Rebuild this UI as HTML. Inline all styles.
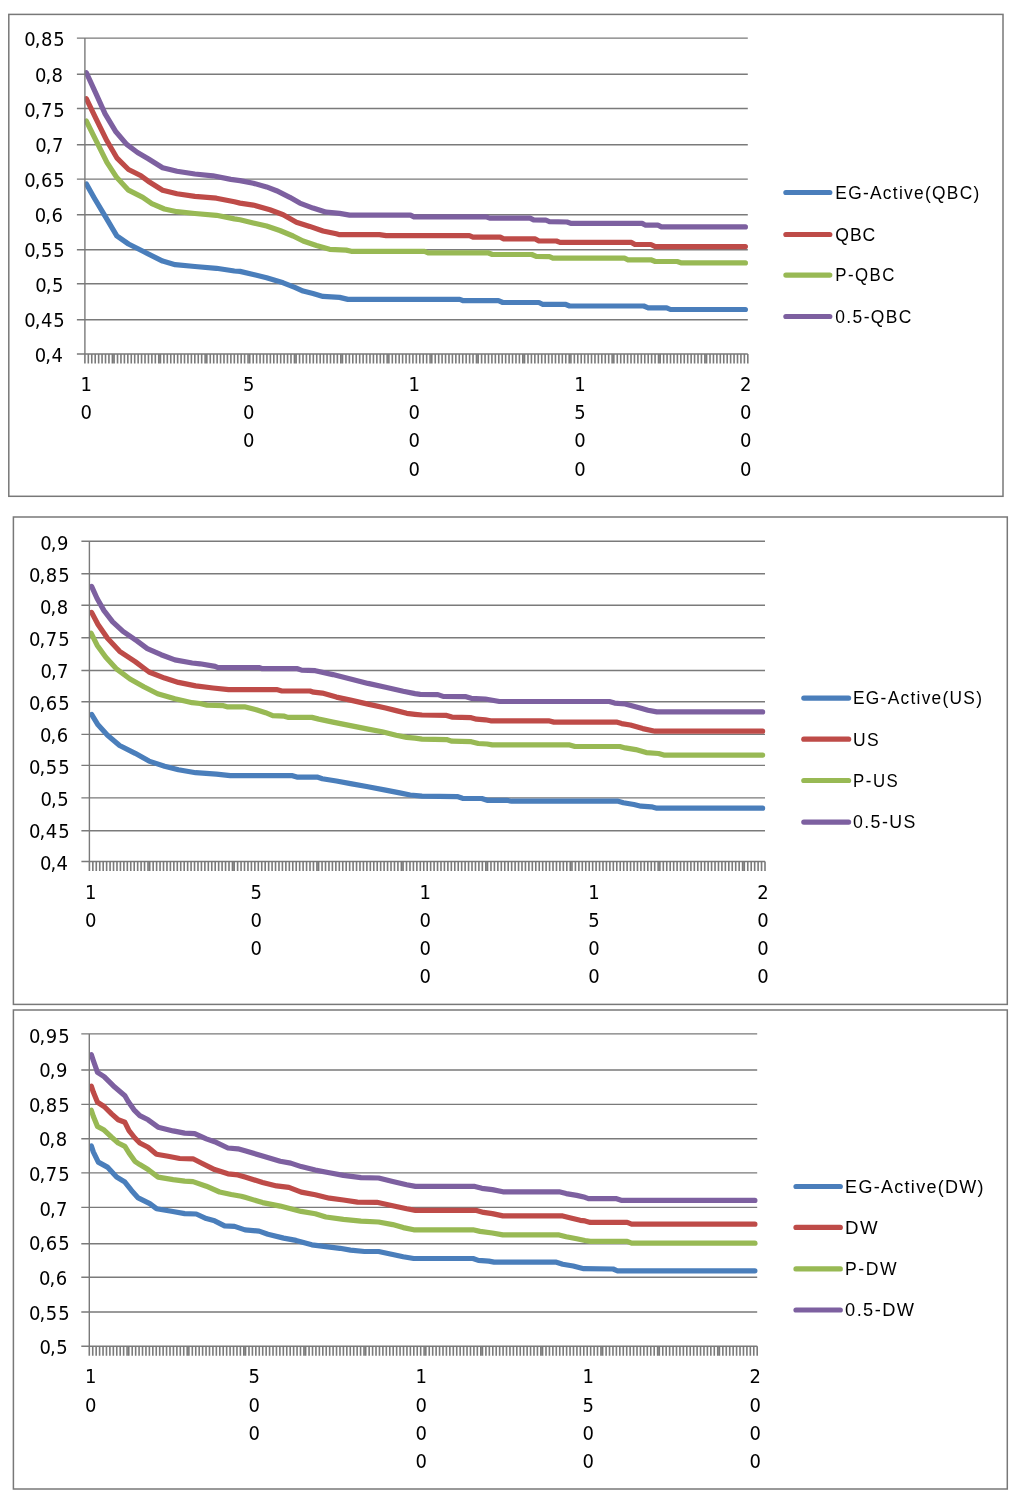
<!DOCTYPE html>
<html lang="en"><head><meta charset="utf-8"><title>Charts</title>
<style>
html,body{margin:0;padding:0;background:#fff;}
body{width:1024px;height:1504px;overflow:hidden;}
svg{display:block;}
.ax,.lg{filter:blur(0.35px);}
.ax{font-family:"DejaVu Sans","Liberation Sans",sans-serif;font-size:18.0px;fill:#000;}
.lg{font-family:"Liberation Sans","DejaVu Sans",sans-serif;font-size:19.0px;fill:#000;}
.g{stroke:#7a7a7a;stroke-width:1.4;fill:none;}
.s{fill:none;stroke-width:5.2;stroke-linejoin:round;stroke-linecap:round;}
</style></head><body>
<svg width="1024" height="1504" viewBox="0 0 1024 1504">
<rect x="0" y="0" width="1024" height="1504" fill="#fff"/>
<g id="chart1">
<rect x="8.8" y="14.4" width="994.2" height="481.9" fill="#fff" stroke="#787878" stroke-width="1.5"/>
<path class="g" d="M76.9 38.1H747.8M76.9 74.3H747.8M76.9 108.5H747.8M76.9 144.7H747.8M76.9 179.1H747.8M76.9 214.7H747.8M76.9 249.7H747.8M76.9 283.7H747.8M76.9 319.8H747.8M76.9 354H747.8"/>
<path d="M84.90 354v9.5M88.33 354v9.5M91.77 354v9.5M95.20 354v9.5M98.64 354v9.5M102.07 354v9.5M105.51 354v9.5M108.94 354v9.5M112.38 354v9.5M114.10 354v9.5M117.53 354v9.5M120.96 354v9.5M124.40 354v9.5M127.83 354v9.5M131.27 354v9.5M134.70 354v9.5M138.14 354v9.5M141.57 354v9.5M145.01 354v9.5M148.44 354v9.5M151.88 354v9.5M155.31 354v9.5M158.75 354v9.5M160.46 354v9.5M163.90 354v9.5M167.33 354v9.5M170.77 354v9.5M174.20 354v9.5M177.64 354v9.5M181.07 354v9.5M184.51 354v9.5M187.94 354v9.5M191.38 354v9.5M194.81 354v9.5M198.25 354v9.5M201.68 354v9.5M205.12 354v9.5M206.83 354v9.5M210.27 354v9.5M213.70 354v9.5M217.14 354v9.5M220.57 354v9.5M224.01 354v9.5M227.44 354v9.5M230.88 354v9.5M234.31 354v9.5M237.74 354v9.5M241.18 354v9.5M244.61 354v9.5M248.05 354v9.5M249.77 354v9.5M253.20 354v9.5M256.64 354v9.5M260.07 354v9.5M263.51 354v9.5M266.94 354v9.5M270.37 354v9.5M273.81 354v9.5M277.24 354v9.5M280.68 354v9.5M284.11 354v9.5M287.55 354v9.5M290.98 354v9.5M294.42 354v9.5M296.13 354v9.5M299.57 354v9.5M303.00 354v9.5M306.44 354v9.5M309.87 354v9.5M313.31 354v9.5M316.74 354v9.5M320.18 354v9.5M323.61 354v9.5M327.05 354v9.5M330.48 354v9.5M333.92 354v9.5M337.35 354v9.5M340.79 354v9.5M342.50 354v9.5M345.94 354v9.5M349.37 354v9.5M352.81 354v9.5M356.24 354v9.5M359.68 354v9.5M363.11 354v9.5M366.55 354v9.5M369.98 354v9.5M373.42 354v9.5M376.85 354v9.5M380.29 354v9.5M383.72 354v9.5M387.15 354v9.5M388.87 354v9.5M392.31 354v9.5M395.74 354v9.5M399.18 354v9.5M402.61 354v9.5M406.05 354v9.5M409.48 354v9.5M412.92 354v9.5M416.35 354v9.5M419.78 354v9.5M423.22 354v9.5M426.65 354v9.5M430.09 354v9.5M431.81 354v9.5M435.24 354v9.5M438.68 354v9.5M442.11 354v9.5M445.55 354v9.5M448.98 354v9.5M452.41 354v9.5M455.85 354v9.5M459.28 354v9.5M462.72 354v9.5M466.15 354v9.5M469.59 354v9.5M473.02 354v9.5M476.46 354v9.5M478.17 354v9.5M481.61 354v9.5M485.04 354v9.5M488.48 354v9.5M491.91 354v9.5M495.35 354v9.5M498.78 354v9.5M502.22 354v9.5M505.65 354v9.5M509.09 354v9.5M512.52 354v9.5M515.96 354v9.5M519.39 354v9.5M522.83 354v9.5M524.54 354v9.5M527.98 354v9.5M531.41 354v9.5M534.85 354v9.5M538.28 354v9.5M541.72 354v9.5M545.15 354v9.5M548.59 354v9.5M552.02 354v9.5M555.46 354v9.5M558.89 354v9.5M562.33 354v9.5M565.76 354v9.5M569.19 354v9.5M570.91 354v9.5M574.35 354v9.5M577.78 354v9.5M581.22 354v9.5M584.65 354v9.5M588.09 354v9.5M591.52 354v9.5M594.96 354v9.5M598.39 354v9.5M601.82 354v9.5M605.26 354v9.5M608.69 354v9.5M612.13 354v9.5M613.85 354v9.5M617.28 354v9.5M620.72 354v9.5M624.15 354v9.5M627.58 354v9.5M631.02 354v9.5M634.45 354v9.5M637.89 354v9.5M641.32 354v9.5M644.76 354v9.5M648.19 354v9.5M651.63 354v9.5M655.06 354v9.5M658.50 354v9.5M660.21 354v9.5M663.65 354v9.5M667.08 354v9.5M670.52 354v9.5M673.95 354v9.5M677.39 354v9.5M680.82 354v9.5M684.26 354v9.5M687.69 354v9.5M691.13 354v9.5M694.56 354v9.5M698.00 354v9.5M701.43 354v9.5M704.87 354v9.5M706.58 354v9.5M710.02 354v9.5M713.45 354v9.5M716.89 354v9.5M720.32 354v9.5M723.76 354v9.5M727.19 354v9.5M730.63 354v9.5M734.06 354v9.5M737.50 354v9.5M740.93 354v9.5M744.37 354v9.5M747.80 354v9.5" stroke="#7a7a7a" stroke-width="1.6" fill="none"/>
<g class="ax">
<text transform="translate(0 46.4) scale(1 1.06)" x="24.2 34.7 40.9 53.3">0,85</text>
<text transform="translate(0 81.5) scale(1 1.06)" x="34.9 45.4 51.6">0,8</text>
<text transform="translate(0 116.6) scale(1 1.06)" x="24.2 34.7 40.9 53.3">0,75</text>
<text transform="translate(0 151.7) scale(1 1.06)" x="35.2 45.7 51.9">0,7</text>
<text transform="translate(0 186.8) scale(1 1.06)" x="24.2 34.7 40.9 53.3">0,65</text>
<text transform="translate(0 221.9) scale(1 1.06)" x="34.8 45.3 51.5">0,6</text>
<text transform="translate(0 257.1) scale(1 1.06)" x="24.2 34.7 40.9 53.3">0,55</text>
<text transform="translate(0 292.2) scale(1 1.06)" x="35.3 45.8 52.0">0,5</text>
<text transform="translate(0 327.3) scale(1 1.06)" x="24.2 34.7 40.9 53.3">0,45</text>
<text transform="translate(0 362.4) scale(1 1.06)" x="34.7 45.2 51.4">0,4</text>
</g>
<g class="ax" text-anchor="middle">
<text transform="translate(86.2 391) scale(1 1.06)">1</text><text transform="translate(86.2 419.2) scale(1 1.06)">0</text>
<text transform="translate(248.6 391) scale(1 1.06)">5</text><text transform="translate(248.6 419.2) scale(1 1.06)">0</text><text transform="translate(248.6 447.4) scale(1 1.06)">0</text>
<text transform="translate(414.3 391) scale(1 1.06)">1</text><text transform="translate(414.3 419.2) scale(1 1.06)">0</text><text transform="translate(414.3 447.4) scale(1 1.06)">0</text><text transform="translate(414.3 475.6) scale(1 1.06)">0</text>
<text transform="translate(580 391) scale(1 1.06)">1</text><text transform="translate(580 419.2) scale(1 1.06)">5</text><text transform="translate(580 447.4) scale(1 1.06)">0</text><text transform="translate(580 475.6) scale(1 1.06)">0</text>
<text transform="translate(745.7 391) scale(1 1.06)">2</text><text transform="translate(745.7 419.2) scale(1 1.06)">0</text><text transform="translate(745.7 447.4) scale(1 1.06)">0</text><text transform="translate(745.7 475.6) scale(1 1.06)">0</text>
</g>
<clipPath id="cp1"><rect x="84.6" y="32.1" width="666.9" height="321.9"/></clipPath>
<g clip-path="url(#cp1)">
<polyline class="s" stroke="#4a7ebb" points="86.3,183.9 94.4,198.2 105.1,216.2 116.8,235.9 128.5,244 141,250.3 162.6,261.1 175.2,264.7 194.9,266.5 216.4,268.3 234.4,271 240,271.4 253.3,274.5 266.6,277.8 283.2,282.8 294.8,287.4 303.1,291.1 313,293.6 323,296.4 339.6,297.4 347.9,299.4 459.8,299.4 463.3,300.7 498.4,300.7 502.8,302.5 538.9,302.5 542.4,304.3 565.2,304.3 569.6,306 643.8,306 648.2,307.8 666.7,307.8 670.5,309.5 745.4,309.5"/>
<polyline class="s" stroke="#be4b48" points="86.3,98.6 96.2,119.2 106.9,140.8 116.8,157.8 128.5,169.5 141,175.8 148.2,181.2 162.6,190.2 177,193.8 194.9,196.4 216.4,198.2 234.4,201.8 240,203.1 253.3,205.1 269.9,209.8 283.2,214.7 296.4,222.2 309.7,226.4 323,231 336.3,233.8 339.6,234.7 379.4,234.7 386.1,235.6 469.4,235.6 473,237.1 500.2,237.1 503.7,238.9 535.3,238.9 538.9,241 556.4,241 560,242.4 631.5,242.4 635,244.5 650.9,244.5 655.3,246.6 745.4,246.6"/>
<polyline class="s" stroke="#98b954" points="86.3,121 96.2,140.8 106.9,162.3 116.8,177.6 128.5,190.2 142.8,197.3 151.8,203.6 164.4,209 177,211.7 194.9,213.5 216.4,215.3 234.4,218.9 240,219.7 253.3,223 266.6,226 279.8,230.5 293.1,236 303.1,241 316.4,245.5 329.6,249.3 346.2,250.1 351.2,251.3 424.6,251.3 428.1,252.8 487.9,252.8 492.3,254.5 531.8,254.5 536.2,256.4 549.4,256.6 552.9,258.2 624.5,258.2 628,259.8 650.9,259.8 655.3,261.5 677.2,261.5 681.6,262.9 745.4,262.9"/>
<polyline class="s" stroke="#7d60a0" points="86.3,72.6 96.2,94.1 105.1,113.9 115.9,131.8 126.7,144.4 137.5,152.5 148.2,158.7 162.6,167.7 177,171.3 194.9,174 212.9,175.8 230.8,179.4 240,180.6 253.3,183.2 266.6,186.9 276.5,190.7 289.8,197.3 299.8,203.1 313,208.1 326.3,212.2 339.6,213.4 349.6,215.1 410.5,215.1 414,216.9 486.1,216.9 489.6,218.1 530,218.1 533.6,219.9 545.9,220.2 549.4,221.6 567,222 571.4,223.4 642.1,223.4 645.6,225.2 657.9,225.2 661.4,226.9 745.4,226.9"/>
</g>
<path class="g" d="M84.9 38.1V354"/>
<line class="s" stroke="#4a7ebb" x1="785.9" y1="192.5" x2="829.8" y2="192.5"/>
<text class="lg" transform="translate(835.3 198.8) scale(0.914 1)" textLength="157.5" lengthAdjust="spacing">EG-Active(QBC)</text>
<line class="s" stroke="#be4b48" x1="785.9" y1="234.5" x2="829.8" y2="234.5"/>
<text class="lg" transform="translate(835.3 240.8) scale(0.928 1)" textLength="43.1" lengthAdjust="spacing">QBC</text>
<line class="s" stroke="#98b954" x1="785.9" y1="275.1" x2="829.8" y2="275.1"/>
<text class="lg" transform="translate(835.3 281.4) scale(0.887 1)" textLength="66.7" lengthAdjust="spacing">P-QBC</text>
<line class="s" stroke="#7d60a0" x1="785.9" y1="316.5" x2="829.8" y2="316.5"/>
<text class="lg" transform="translate(835.3 322.8) scale(0.92 1)" textLength="82.8" lengthAdjust="spacing">0.5-QBC</text>
</g>
<g id="chart2">
<rect x="13.4" y="517" width="993.9" height="487.4" fill="#fff" stroke="#787878" stroke-width="1.5"/>
<path class="g" d="M81.4 541.3H765M81.4 573.8H765M81.4 605.2H765M81.4 637.7H765M81.4 670.5H765M81.4 701.7H765M81.4 734.4H765M81.4 765.4H765M81.4 797.9H765M81.4 830.8H765M81.4 861.5H765"/>
<path d="M89.40 861.5v9.5M92.85 861.5v9.5M96.29 861.5v9.5M99.74 861.5v9.5M103.19 861.5v9.5M106.63 861.5v9.5M110.08 861.5v9.5M113.53 861.5v9.5M116.98 861.5v9.5M120.42 861.5v9.5M123.87 861.5v9.5M127.32 861.5v9.5M130.76 861.5v9.5M134.21 861.5v9.5M137.66 861.5v9.5M141.10 861.5v9.5M144.55 861.5v9.5M148.00 861.5v9.5M149.72 861.5v9.5M153.17 861.5v9.5M156.62 861.5v9.5M160.06 861.5v9.5M163.51 861.5v9.5M166.96 861.5v9.5M170.40 861.5v9.5M173.85 861.5v9.5M177.30 861.5v9.5M180.74 861.5v9.5M184.19 861.5v9.5M187.64 861.5v9.5M191.08 861.5v9.5M194.53 861.5v9.5M197.98 861.5v9.5M201.43 861.5v9.5M204.87 861.5v9.5M208.32 861.5v9.5M211.77 861.5v9.5M215.21 861.5v9.5M218.66 861.5v9.5M222.11 861.5v9.5M225.55 861.5v9.5M229.00 861.5v9.5M232.45 861.5v9.5M234.17 861.5v9.5M237.62 861.5v9.5M241.07 861.5v9.5M244.51 861.5v9.5M247.96 861.5v9.5M251.41 861.5v9.5M254.85 861.5v9.5M258.30 861.5v9.5M261.75 861.5v9.5M265.19 861.5v9.5M268.64 861.5v9.5M272.09 861.5v9.5M275.53 861.5v9.5M278.98 861.5v9.5M282.43 861.5v9.5M285.88 861.5v9.5M289.32 861.5v9.5M292.77 861.5v9.5M296.22 861.5v9.5M299.66 861.5v9.5M303.11 861.5v9.5M306.56 861.5v9.5M310.00 861.5v9.5M313.45 861.5v9.5M316.90 861.5v9.5M318.62 861.5v9.5M322.07 861.5v9.5M325.52 861.5v9.5M328.96 861.5v9.5M332.41 861.5v9.5M335.86 861.5v9.5M339.30 861.5v9.5M342.75 861.5v9.5M346.20 861.5v9.5M349.64 861.5v9.5M353.09 861.5v9.5M356.54 861.5v9.5M359.98 861.5v9.5M363.43 861.5v9.5M366.88 861.5v9.5M370.33 861.5v9.5M373.77 861.5v9.5M377.22 861.5v9.5M380.67 861.5v9.5M384.11 861.5v9.5M387.56 861.5v9.5M391.01 861.5v9.5M394.45 861.5v9.5M397.90 861.5v9.5M401.35 861.5v9.5M403.07 861.5v9.5M406.52 861.5v9.5M409.97 861.5v9.5M413.41 861.5v9.5M416.86 861.5v9.5M420.31 861.5v9.5M423.75 861.5v9.5M427.20 861.5v9.5M430.65 861.5v9.5M434.09 861.5v9.5M437.54 861.5v9.5M440.99 861.5v9.5M444.43 861.5v9.5M447.88 861.5v9.5M451.33 861.5v9.5M454.78 861.5v9.5M458.22 861.5v9.5M461.67 861.5v9.5M465.12 861.5v9.5M468.56 861.5v9.5M472.01 861.5v9.5M475.46 861.5v9.5M478.90 861.5v9.5M482.35 861.5v9.5M485.80 861.5v9.5M487.52 861.5v9.5M490.97 861.5v9.5M494.42 861.5v9.5M497.86 861.5v9.5M501.31 861.5v9.5M504.76 861.5v9.5M508.20 861.5v9.5M511.65 861.5v9.5M515.10 861.5v9.5M518.54 861.5v9.5M521.99 861.5v9.5M525.44 861.5v9.5M528.88 861.5v9.5M532.33 861.5v9.5M535.78 861.5v9.5M539.23 861.5v9.5M542.67 861.5v9.5M546.12 861.5v9.5M549.57 861.5v9.5M553.01 861.5v9.5M556.46 861.5v9.5M559.91 861.5v9.5M563.35 861.5v9.5M566.80 861.5v9.5M570.25 861.5v9.5M571.97 861.5v9.5M575.42 861.5v9.5M578.87 861.5v9.5M582.31 861.5v9.5M585.76 861.5v9.5M589.21 861.5v9.5M592.65 861.5v9.5M596.10 861.5v9.5M599.55 861.5v9.5M602.99 861.5v9.5M606.44 861.5v9.5M609.89 861.5v9.5M613.33 861.5v9.5M616.78 861.5v9.5M620.23 861.5v9.5M623.68 861.5v9.5M627.12 861.5v9.5M630.57 861.5v9.5M634.02 861.5v9.5M637.46 861.5v9.5M640.91 861.5v9.5M644.36 861.5v9.5M647.80 861.5v9.5M651.25 861.5v9.5M654.70 861.5v9.5M658.14 861.5v9.5M659.87 861.5v9.5M663.32 861.5v9.5M666.76 861.5v9.5M670.21 861.5v9.5M673.66 861.5v9.5M677.10 861.5v9.5M680.55 861.5v9.5M684.00 861.5v9.5M687.44 861.5v9.5M690.89 861.5v9.5M694.34 861.5v9.5M697.78 861.5v9.5M701.23 861.5v9.5M704.68 861.5v9.5M708.13 861.5v9.5M711.57 861.5v9.5M715.02 861.5v9.5M718.47 861.5v9.5M721.91 861.5v9.5M725.36 861.5v9.5M728.81 861.5v9.5M732.25 861.5v9.5M735.70 861.5v9.5M739.15 861.5v9.5M742.59 861.5v9.5M744.32 861.5v9.5M747.77 861.5v9.5M751.21 861.5v9.5M754.66 861.5v9.5M758.11 861.5v9.5M761.55 861.5v9.5M765.00 861.5v9.5" stroke="#7a7a7a" stroke-width="1.6" fill="none"/>
<g class="ax">
<text transform="translate(0 549.9) scale(1 1.06)" x="40.2 50.7 56.9">0,9</text>
<text transform="translate(0 581.9) scale(1 1.06)" x="29.1 39.6 45.8 58.2">0,85</text>
<text transform="translate(0 613.9) scale(1 1.06)" x="40.1 50.6 56.8">0,8</text>
<text transform="translate(0 646) scale(1 1.06)" x="29.1 39.6 45.8 58.2">0,75</text>
<text transform="translate(0 678) scale(1 1.06)" x="40.4 50.9 57.1">0,7</text>
<text transform="translate(0 710) scale(1 1.06)" x="29.1 39.6 45.8 58.2">0,65</text>
<text transform="translate(0 742) scale(1 1.06)" x="40.0 50.5 56.7">0,6</text>
<text transform="translate(0 774) scale(1 1.06)" x="29.1 39.6 45.8 58.2">0,55</text>
<text transform="translate(0 806.1) scale(1 1.06)" x="40.5 51.0 57.2">0,5</text>
<text transform="translate(0 838.1) scale(1 1.06)" x="29.1 39.6 45.8 58.2">0,45</text>
<text transform="translate(0 870.1) scale(1 1.06)" x="39.9 50.4 56.6">0,4</text>
</g>
<g class="ax" text-anchor="middle">
<text transform="translate(90.7 898.5) scale(1 1.06)">1</text><text transform="translate(90.7 926.7) scale(1 1.06)">0</text>
<text transform="translate(256.2 898.5) scale(1 1.06)">5</text><text transform="translate(256.2 926.7) scale(1 1.06)">0</text><text transform="translate(256.2 954.9) scale(1 1.06)">0</text>
<text transform="translate(425.1 898.5) scale(1 1.06)">1</text><text transform="translate(425.1 926.7) scale(1 1.06)">0</text><text transform="translate(425.1 954.9) scale(1 1.06)">0</text><text transform="translate(425.1 983.1) scale(1 1.06)">0</text>
<text transform="translate(594 898.5) scale(1 1.06)">1</text><text transform="translate(594 926.7) scale(1 1.06)">5</text><text transform="translate(594 954.9) scale(1 1.06)">0</text><text transform="translate(594 983.1) scale(1 1.06)">0</text>
<text transform="translate(762.9 898.5) scale(1 1.06)">2</text><text transform="translate(762.9 926.7) scale(1 1.06)">0</text><text transform="translate(762.9 954.9) scale(1 1.06)">0</text><text transform="translate(762.9 983.1) scale(1 1.06)">0</text>
</g>
<clipPath id="cp2"><rect x="89.1" y="535.3" width="679.6" height="326.2"/></clipPath>
<g clip-path="url(#cp2)">
<polyline class="s" stroke="#4a7ebb" points="91.6,714.4 98,724.8 107.5,735.2 119.6,745.5 135.2,753.3 149,761.1 164.6,766.3 178.4,769.8 195.7,772.7 216.4,774.1 230.3,775.7 292.5,775.7 296.9,777.1 317.1,777.1 322.3,778.7 336.4,781 350.5,783.6 368,786.8 385.6,790.1 399.7,792.9 410.2,795 422,796.2 457.2,796.6 462.5,798.3 481.8,798.5 487.1,800.3 506.4,800.3 511.7,801.2 618.1,801.2 623.4,802.7 633.9,804.5 641,806.2 651.5,806.8 656.8,808.2 762.6,808.2"/>
<polyline class="s" stroke="#be4b48" points="91.6,612.4 98,624.5 107.5,638.3 119.6,651.3 135.2,661.7 149,672 164.6,678.1 178.4,682.4 195.7,685.9 213,688 228.6,689.6 276.6,689.6 281.9,691 310,691 313.6,692.2 322.3,693.1 336.4,697.1 350.5,700.1 368,704.1 385.6,708 396.2,710.6 406.7,713.3 415,714.3 422,715 446.6,715.4 451.9,717.1 471.2,717.7 476.5,719.2 485.3,719.8 490.6,720.8 548.6,720.8 553.9,722.1 616.4,722.1 621.6,723.6 630.4,725 642.7,728.6 655,731.2 762.6,731.2"/>
<polyline class="s" stroke="#98b954" points="91.1,633.1 97.1,645.2 105.8,657.3 116.1,668.6 130,679 143.8,686.7 157.6,693.7 174.9,698.8 192.2,702.7 200,703.5 207,705.1 223.4,705.7 227,706.8 244.5,706.8 256.3,709.8 265.6,712.7 272.7,715.6 284.4,716.2 287.9,717.4 311.8,717.4 318.8,719.1 332.9,722.1 350.5,725.6 368,729.1 382.1,731.7 396.2,735.3 406.7,737.4 415,738.2 422,739.1 446.6,739.6 451.9,741.2 471.2,741.7 478.3,743.5 487.1,744 492.3,744.9 569.7,744.9 575,746.5 619.9,746.5 625.2,747.9 635.7,749.6 646.2,752.6 658.6,753.5 663.8,755.1 762.6,755.1"/>
<polyline class="s" stroke="#7d60a0" points="91.6,586.4 97.1,598.5 104,610.6 112.7,621.9 123,631.4 136.9,640.9 147.3,648.7 161.1,654.7 174.9,659.9 192.2,663 200,663.8 215.2,666.4 218,667.6 259.5,667.6 262.4,668.7 297.5,668.7 301.6,670.1 315.3,670.7 332.9,674.6 350.5,679 368,683.4 385.6,687.3 403.2,691.3 415,693.6 420.3,694.3 437.9,694.6 443.1,696.4 466,696.7 471.2,698.3 485.3,699 499.4,701.5 609.3,701.5 614.6,703.1 625.2,704 639.2,707.8 648,710.3 656.8,711.9 762.6,711.9"/>
</g>
<path class="g" d="M89.4 541.3V861.5"/>
<line class="s" stroke="#4a7ebb" x1="803.8" y1="698.1" x2="848.6" y2="698.1"/>
<text class="lg" transform="translate(853 704.4) scale(0.912 1)" textLength="141.4" lengthAdjust="spacing">EG-Active(US)</text>
<line class="s" stroke="#be4b48" x1="803.8" y1="739.2" x2="848.6" y2="739.2"/>
<text class="lg" transform="translate(853 745.5) scale(0.921 1)" textLength="27.9" lengthAdjust="spacing">US</text>
<line class="s" stroke="#98b954" x1="803.8" y1="780.5" x2="848.6" y2="780.5"/>
<text class="lg" transform="translate(853 786.8) scale(0.886 1)" textLength="50.6" lengthAdjust="spacing">P-US</text>
<line class="s" stroke="#7d60a0" x1="803.8" y1="822.1" x2="848.6" y2="822.1"/>
<text class="lg" transform="translate(853 828.4) scale(0.935 1)" textLength="66.6" lengthAdjust="spacing">0.5-US</text>
</g>
<g id="chart3">
<rect x="13.4" y="1010" width="993.9" height="479" fill="#fff" stroke="#787878" stroke-width="1.5"/>
<path class="g" d="M81.3 1033.9H757.2M81.3 1070H757.2M81.3 1104.4H757.2M81.3 1138.7H757.2M81.3 1172.9H757.2M81.3 1207.4H757.2M81.3 1243.7H757.2M81.3 1277.3H757.2M81.3 1312H757.2M81.3 1346.3H757.2"/>
<path d="M89.30 1346.3v9.5M92.73 1346.3v9.5M96.17 1346.3v9.5M99.60 1346.3v9.5M103.04 1346.3v9.5M106.47 1346.3v9.5M109.90 1346.3v9.5M113.34 1346.3v9.5M116.77 1346.3v9.5M120.21 1346.3v9.5M123.64 1346.3v9.5M127.07 1346.3v9.5M128.79 1346.3v9.5M132.22 1346.3v9.5M135.66 1346.3v9.5M139.09 1346.3v9.5M142.53 1346.3v9.5M145.96 1346.3v9.5M149.39 1346.3v9.5M152.83 1346.3v9.5M156.26 1346.3v9.5M159.70 1346.3v9.5M163.13 1346.3v9.5M166.56 1346.3v9.5M170.00 1346.3v9.5M173.43 1346.3v9.5M176.87 1346.3v9.5M180.30 1346.3v9.5M183.73 1346.3v9.5M187.17 1346.3v9.5M188.88 1346.3v9.5M192.32 1346.3v9.5M195.75 1346.3v9.5M199.19 1346.3v9.5M202.62 1346.3v9.5M206.05 1346.3v9.5M209.49 1346.3v9.5M212.92 1346.3v9.5M216.36 1346.3v9.5M219.79 1346.3v9.5M223.22 1346.3v9.5M226.66 1346.3v9.5M230.09 1346.3v9.5M233.53 1346.3v9.5M236.96 1346.3v9.5M240.39 1346.3v9.5M243.83 1346.3v9.5M245.54 1346.3v9.5M248.98 1346.3v9.5M252.41 1346.3v9.5M255.85 1346.3v9.5M259.28 1346.3v9.5M262.71 1346.3v9.5M266.15 1346.3v9.5M269.58 1346.3v9.5M273.02 1346.3v9.5M276.45 1346.3v9.5M279.88 1346.3v9.5M283.32 1346.3v9.5M286.75 1346.3v9.5M290.19 1346.3v9.5M293.62 1346.3v9.5M297.05 1346.3v9.5M300.49 1346.3v9.5M303.92 1346.3v9.5M305.64 1346.3v9.5M309.07 1346.3v9.5M312.51 1346.3v9.5M315.94 1346.3v9.5M319.37 1346.3v9.5M322.81 1346.3v9.5M326.24 1346.3v9.5M329.68 1346.3v9.5M333.11 1346.3v9.5M336.54 1346.3v9.5M339.98 1346.3v9.5M343.41 1346.3v9.5M346.84 1346.3v9.5M350.28 1346.3v9.5M353.71 1346.3v9.5M357.15 1346.3v9.5M360.58 1346.3v9.5M364.01 1346.3v9.5M365.73 1346.3v9.5M369.17 1346.3v9.5M372.60 1346.3v9.5M376.03 1346.3v9.5M379.47 1346.3v9.5M382.90 1346.3v9.5M386.34 1346.3v9.5M389.77 1346.3v9.5M393.20 1346.3v9.5M396.64 1346.3v9.5M400.07 1346.3v9.5M403.50 1346.3v9.5M406.94 1346.3v9.5M410.37 1346.3v9.5M413.81 1346.3v9.5M417.24 1346.3v9.5M420.67 1346.3v9.5M424.11 1346.3v9.5M425.83 1346.3v9.5M429.26 1346.3v9.5M432.69 1346.3v9.5M436.13 1346.3v9.5M439.56 1346.3v9.5M443.00 1346.3v9.5M446.43 1346.3v9.5M449.86 1346.3v9.5M453.30 1346.3v9.5M456.73 1346.3v9.5M460.16 1346.3v9.5M463.60 1346.3v9.5M467.03 1346.3v9.5M470.47 1346.3v9.5M473.90 1346.3v9.5M477.33 1346.3v9.5M480.77 1346.3v9.5M482.49 1346.3v9.5M485.92 1346.3v9.5M489.35 1346.3v9.5M492.79 1346.3v9.5M496.22 1346.3v9.5M499.66 1346.3v9.5M503.09 1346.3v9.5M506.52 1346.3v9.5M509.96 1346.3v9.5M513.39 1346.3v9.5M516.82 1346.3v9.5M520.26 1346.3v9.5M523.69 1346.3v9.5M527.13 1346.3v9.5M530.56 1346.3v9.5M533.99 1346.3v9.5M537.43 1346.3v9.5M540.86 1346.3v9.5M542.58 1346.3v9.5M546.01 1346.3v9.5M549.45 1346.3v9.5M552.88 1346.3v9.5M556.31 1346.3v9.5M559.75 1346.3v9.5M563.18 1346.3v9.5M566.62 1346.3v9.5M570.05 1346.3v9.5M573.48 1346.3v9.5M576.92 1346.3v9.5M580.35 1346.3v9.5M583.79 1346.3v9.5M587.22 1346.3v9.5M590.65 1346.3v9.5M594.09 1346.3v9.5M597.52 1346.3v9.5M600.96 1346.3v9.5M602.67 1346.3v9.5M606.11 1346.3v9.5M609.54 1346.3v9.5M612.97 1346.3v9.5M616.41 1346.3v9.5M619.84 1346.3v9.5M623.28 1346.3v9.5M626.71 1346.3v9.5M630.14 1346.3v9.5M633.58 1346.3v9.5M637.01 1346.3v9.5M640.45 1346.3v9.5M643.88 1346.3v9.5M647.31 1346.3v9.5M650.75 1346.3v9.5M654.18 1346.3v9.5M657.62 1346.3v9.5M659.33 1346.3v9.5M662.77 1346.3v9.5M666.20 1346.3v9.5M669.63 1346.3v9.5M673.07 1346.3v9.5M676.50 1346.3v9.5M679.94 1346.3v9.5M683.37 1346.3v9.5M686.80 1346.3v9.5M690.24 1346.3v9.5M693.67 1346.3v9.5M697.11 1346.3v9.5M700.54 1346.3v9.5M703.97 1346.3v9.5M707.41 1346.3v9.5M710.84 1346.3v9.5M714.28 1346.3v9.5M717.71 1346.3v9.5M719.43 1346.3v9.5M722.86 1346.3v9.5M726.29 1346.3v9.5M729.73 1346.3v9.5M733.16 1346.3v9.5M736.60 1346.3v9.5M740.03 1346.3v9.5M743.46 1346.3v9.5M746.90 1346.3v9.5M750.33 1346.3v9.5M753.77 1346.3v9.5M757.20 1346.3v9.5" stroke="#7a7a7a" stroke-width="1.6" fill="none"/>
<g class="ax">
<text transform="translate(0 1042.5) scale(1 1.06)" x="29.1 39.6 45.8 58.2">0,95</text>
<text transform="translate(0 1077.1) scale(1 1.06)" x="39.2 49.7 55.9">0,9</text>
<text transform="translate(0 1111.8) scale(1 1.06)" x="29.1 39.6 45.8 58.2">0,85</text>
<text transform="translate(0 1146.4) scale(1 1.06)" x="39.1 49.6 55.8">0,8</text>
<text transform="translate(0 1181.1) scale(1 1.06)" x="29.1 39.6 45.8 58.2">0,75</text>
<text transform="translate(0 1215.7) scale(1 1.06)" x="39.4 49.9 56.1">0,7</text>
<text transform="translate(0 1250.4) scale(1 1.06)" x="29.1 39.6 45.8 58.2">0,65</text>
<text transform="translate(0 1285) scale(1 1.06)" x="39.0 49.5 55.7">0,6</text>
<text transform="translate(0 1319.7) scale(1 1.06)" x="29.1 39.6 45.8 58.2">0,55</text>
<text transform="translate(0 1354.3) scale(1 1.06)" x="39.5 50.0 56.2">0,5</text>
</g>
<g class="ax" text-anchor="middle">
<text transform="translate(90.6 1383.3) scale(1 1.06)">1</text><text transform="translate(90.6 1411.5) scale(1 1.06)">0</text>
<text transform="translate(254.2 1383.3) scale(1 1.06)">5</text><text transform="translate(254.2 1411.5) scale(1 1.06)">0</text><text transform="translate(254.2 1439.7) scale(1 1.06)">0</text>
<text transform="translate(421.2 1383.3) scale(1 1.06)">1</text><text transform="translate(421.2 1411.5) scale(1 1.06)">0</text><text transform="translate(421.2 1439.7) scale(1 1.06)">0</text><text transform="translate(421.2 1467.9) scale(1 1.06)">0</text>
<text transform="translate(588.2 1383.3) scale(1 1.06)">1</text><text transform="translate(588.2 1411.5) scale(1 1.06)">5</text><text transform="translate(588.2 1439.7) scale(1 1.06)">0</text><text transform="translate(588.2 1467.9) scale(1 1.06)">0</text>
<text transform="translate(755.1 1383.3) scale(1 1.06)">2</text><text transform="translate(755.1 1411.5) scale(1 1.06)">0</text><text transform="translate(755.1 1439.7) scale(1 1.06)">0</text><text transform="translate(755.1 1467.9) scale(1 1.06)">0</text>
</g>
<clipPath id="cp3"><rect x="89" y="1027.9" width="671.9" height="318.4"/></clipPath>
<g clip-path="url(#cp3)">
<polyline class="s" stroke="#4a7ebb" points="91.3,1145.9 93.3,1151.9 98.3,1162.1 107.4,1167.1 116.6,1177.1 124.9,1182.1 131.5,1190.4 138.2,1197.9 149.8,1203.7 156.5,1208.7 171.4,1211.2 184.7,1213.6 196.3,1214 206.3,1218.6 214.6,1220.8 224.6,1225.8 234.6,1226.4 245,1229.9 259.1,1231.1 267.9,1234.3 283.7,1238.1 296,1240.4 311.8,1244.8 325.9,1246.6 339.9,1248.3 350.5,1250.1 364.5,1251.5 378.6,1251.5 392.7,1254.5 403.2,1256.8 413.7,1258.5 473,1258.5 478.3,1260.4 488.8,1261.1 494.1,1262.1 555.6,1262.1 562.7,1264.3 573.2,1266 583.7,1268.7 613.1,1269 617.5,1270.8 754.9,1270.8"/>
<polyline class="s" stroke="#be4b48" points="91.3,1086.1 93.3,1092.1 97.5,1102.3 104.1,1106.5 111.6,1113.9 118.2,1119.8 124.9,1122.3 129,1130.6 134.9,1138 139.8,1143 148.1,1147.2 156.5,1154.3 168.1,1156.3 179.7,1158.5 193,1158.8 201.3,1163 214.6,1169.6 227.9,1173.8 237.9,1174.9 245,1177.1 262.6,1182.4 276.6,1185.9 288.9,1187.3 301.2,1192.1 315.3,1194.7 329.4,1198.2 343.4,1200 357.5,1202.1 376.8,1202.3 392.7,1205.8 406.7,1208.8 415.5,1210.4 476.5,1210.4 483.6,1212.4 492.3,1213.6 502.9,1215.9 562.7,1215.9 569.7,1217.7 580.2,1220.3 585,1220.9 590.3,1222.4 627.2,1222.4 631.6,1224.2 754.9,1224.2"/>
<polyline class="s" stroke="#98b954" points="91.3,1110.2 93.3,1116.2 97.5,1126.4 104.1,1130.1 111.6,1137.2 118.2,1143 124.9,1146.3 129,1153 134.9,1161.3 139.8,1164.6 148.1,1169.6 158.1,1177.1 173.1,1179.6 184.7,1181.2 193,1181.6 206.3,1186.2 219.6,1192 231.2,1194.5 241.2,1196.2 245,1197.3 262.6,1202.6 280.2,1206.1 290.7,1208.8 301.2,1211.4 315.3,1213.7 325.9,1217 343.4,1219.3 361,1221.1 378.6,1222 392.7,1224.6 403.2,1227.6 413.7,1229.8 473,1229.8 480,1231.4 492.3,1233 502.9,1234.9 559.1,1234.9 566.2,1236.7 576.7,1238.8 585,1240.5 590.3,1241.4 627.2,1241.4 631.6,1243.2 754.9,1243.2"/>
<polyline class="s" stroke="#7d60a0" points="91.3,1054.6 93.3,1060.5 97.5,1072.4 104.1,1076.6 113.2,1085.7 124.9,1095.7 128.2,1101.5 134,1109.8 139.8,1115.6 148.1,1119.8 158.1,1127.2 173.1,1130.9 184.7,1133.1 194.7,1133.6 206.3,1138.9 214.6,1141.7 227.9,1148 237.9,1148.8 245,1150.8 262.6,1156 280.2,1161.3 290.7,1163.1 301.2,1166.6 315.3,1170.1 329.4,1172.7 343.4,1175.4 361,1177.7 378.6,1178 392.7,1181.5 406.7,1184.7 415.5,1186.4 474.8,1186.4 481.8,1188.3 492.3,1189.6 502.9,1191.8 559.1,1191.8 566.2,1193.6 576.7,1195.4 585,1197.3 588.5,1198.7 616.6,1198.7 621.9,1200.4 754.9,1200.4"/>
</g>
<path class="g" d="M89.3 1033.9V1346.3"/>
<line class="s" stroke="#4a7ebb" x1="796" y1="1186.5" x2="840.3" y2="1186.5"/>
<text class="lg" transform="translate(845.1 1192.8) scale(0.948 1)" textLength="146.1" lengthAdjust="spacing">EG-Active(DW)</text>
<line class="s" stroke="#be4b48" x1="796" y1="1227.4" x2="840.3" y2="1227.4"/>
<text class="lg" transform="translate(845.1 1233.7) scale(0.982 1)" textLength="33.1" lengthAdjust="spacing">DW</text>
<line class="s" stroke="#98b954" x1="796" y1="1268.9" x2="840.3" y2="1268.9"/>
<text class="lg" transform="translate(845.1 1275.2) scale(0.926 1)" textLength="55.6" lengthAdjust="spacing">P-DW</text>
<line class="s" stroke="#7d60a0" x1="796" y1="1310" x2="840.3" y2="1310"/>
<text class="lg" transform="translate(845.1 1316.3) scale(0.96 1)" textLength="71.7" lengthAdjust="spacing">0.5-DW</text>
</g>
</svg>
</body></html>
